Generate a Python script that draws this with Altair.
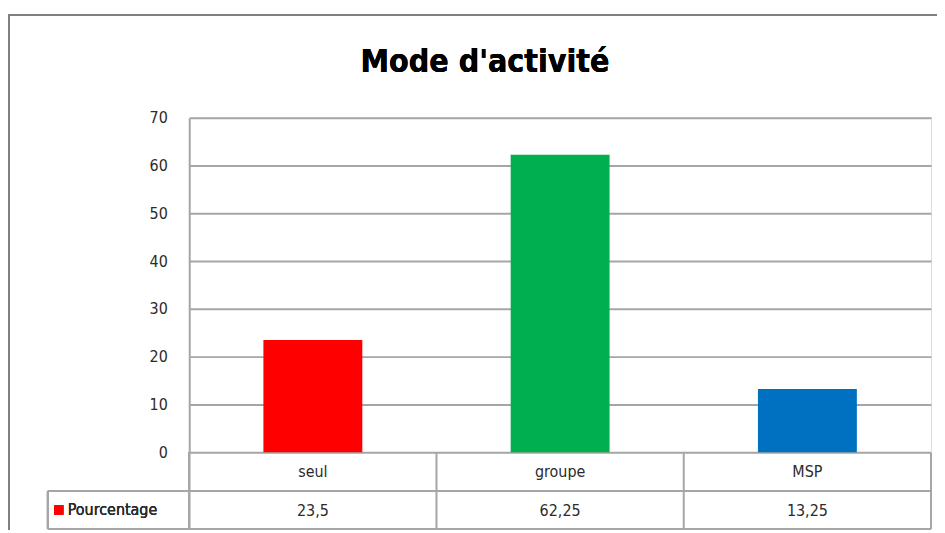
import altair as alt
import pandas as pd

categories = ["seul", "groupe", "MSP"]
values = [23.5, 62.25, 13.25]
value_labels = ["23,5", "62,25", "13,25"]
colors = ["#FF0000", "#00B050", "#0070C0"]
y_ticks = [0, 10, 20, 30, 40, 50, 60, 70]
title_text = "Mode d'activité"
series_name = "Pourcentage"

FONT = "DejaVu Sans Condensed"
GRID = "#a6a6a6"
TXT = "#2b2b2b"

df = pd.DataFrame({"cat": categories, "val": values, "lab": value_labels, "col": colors})

xscale = alt.Scale(domain=categories, paddingInner=0, paddingOuter=0)
xenc = alt.X("cat:N", scale=xscale, axis=None)
yscale = alt.Scale(domain=[0, 70], nice=False)

base = alt.Chart(df)

frame_top = base.mark_rule(color="#808080", strokeWidth=2).encode(
    x=alt.value(-181), x2=alt.value(760), y=alt.value(-103))
frame_left = base.mark_rule(color="#808080", strokeWidth=2).encode(
    x=alt.value(-181), y=alt.value(-104), y2=alt.value(414))

bars = base.mark_bar(width=alt.RelativeBandSize(0.4)).encode(
    x=xenc,
    y=alt.Y("val:Q", scale=yscale,
            axis=alt.Axis(values=y_ticks, title=None, grid=True, gridColor=GRID, gridWidth=2,
                          domainColor=GRID, domainWidth=2, ticks=False, labelPadding=22,
                          labelFont=FONT, labelFontSize=16, labelColor=TXT)),
    color=alt.Color("col:N", scale=None),
)

cat_text = base.mark_text(font=FONT, fontSize=16, color=TXT, baseline="middle").encode(
    x=xenc, y=alt.value(356), text="cat:N")
val_text = base.mark_text(font=FONT, fontSize=16, color=TXT, baseline="middle").encode(
    x=xenc, y=alt.value(395), text="lab:N")

sep_df = pd.DataFrame({"cat": categories[1:]})
seps = alt.Chart(sep_df).mark_rule(color=GRID, strokeWidth=2).encode(
    x=alt.X("cat:N", scale=xscale, axis=None, bandPosition=0),
    y=alt.value(337), y2=alt.value(413))

hl1 = base.mark_rule(color=GRID, strokeWidth=2).encode(
    x=alt.value(-142), x2=alt.value(745), y=alt.value(375))
hl2 = base.mark_rule(color=GRID, strokeWidth=2).encode(
    x=alt.value(-142), x2=alt.value(745), y=alt.value(413))
vl_left = base.mark_rule(color=GRID, strokeWidth=2).encode(
    x=alt.value(-142), y=alt.value(375), y2=alt.value(413))
vl_axis = base.mark_rule(color=GRID, strokeWidth=2).encode(
    x=alt.value(0), y=alt.value(336), y2=alt.value(413))
vl_right = base.mark_rule(color=GRID, strokeWidth=2).encode(
    x=alt.value(745), y=alt.value(337), y2=alt.value(413))

legend_sq = base.mark_square(color=colors[0], opacity=1, size=90).encode(
    x=alt.value(-131), y=alt.value(394))
legend_txt = base.mark_text(font=FONT, fontSize=16, color=TXT, align="left",
                            baseline="middle", text=series_name).encode(
    x=alt.value(-122), y=alt.value(394))

title = base.mark_text(font=FONT, fontSize=32, fontWeight="bold", color="#000000",
                       baseline="middle", text=title_text).encode(
    x=alt.value(297), y=alt.value(-56))

chart = alt.layer(
    frame_top, frame_left, bars, seps, hl1, hl2, vl_left, vl_axis, vl_right,
    cat_text, val_text, legend_sq, legend_txt, title
).properties(
    width=745, height=336,
    autosize=alt.AutoSizeParams(type="none"),
    padding={"left": 182, "top": 109, "right": 6, "bottom": 78},
).configure_view(stroke=None).configure(background="white")

chart.save("out.html", embed_options={"renderer": "svg", "actions": False})
